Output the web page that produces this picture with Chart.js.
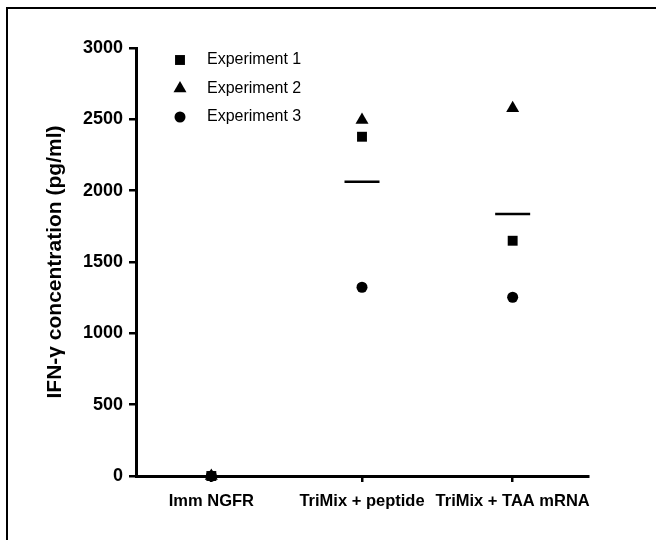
<!DOCTYPE html>
<html>
<head>
<meta charset="utf-8">
<script src="https://cdn.jsdelivr.net/npm/chart.js@4.4.1/dist/chart.umd.min.js"></script>
<style>
  html, body { margin: 0; padding: 0; background: #fff; }
  #wrap { width: 656px; height: 540px; }
</style>
</head>
<body>
<div id="wrap"><canvas id="ifnChart" width="656" height="540"></canvas></div>
<script>
// groups on the x axis
const groups = ["Imm NGFR", "TriMix + peptide", "TriMix + TAA mRNA"];
// IFN-gamma (pg/ml)
const experiment1 = [0, 2378, 1649];
const experiment2 = [0, 2495, 2577];
const experiment3 = [0, 1323, 1253];
const groupMean = [null, 2063, 1836]; // no mean bar drawn for Imm NGFR
const yTicks = [0, 500, 1000, 1500, 2000, 2500, 3000];

const FONT = "'Liberation Sans', Arial, Helvetica, sans-serif";

function expSet(label, values, style, radius) {
  return {
    label: label,
    data: values,
    showLine: false,
    pointStyle: style,
    pointRadius: radius,
    pointHoverRadius: radius,
    pointBackgroundColor: "#000",
    pointBorderColor: "#000",
    pointBorderWidth: 0,
    clip: false
  };
}

const datasets = [
  expSet("Experiment 1", experiment1, "rect", 7),
  expSet("Experiment 2", experiment2, "triangle", 7.5),
  expSet("Experiment 3", experiment3, "circle", 5.5),
  {
    label: "mean",
    data: groupMean,
    showLine: false,
    pointStyle: "line",
    pointRadius: 17.5,
    pointBorderColor: "#000",
    pointBorderWidth: 2.5,
    clip: false
  }
];

// little legend inside the plot, top left
const insideLegend = {
  id: "insideLegend",
  afterDraw(chart) {
    const ctx = chart.ctx;
    ctx.save();
    ctx.font = "16px " + FONT;
    ctx.textBaseline = "middle";
    ctx.textAlign = "left";
    for (let i = 0; i < 3; i++) {
      const ds = chart.data.datasets[i];
      const y = 60 + i * 28.5;
      ctx.fillStyle = "#000";
      ctx.strokeStyle = "#000";
      Chart.helpers.drawPoint(ctx, {pointStyle: ds.pointStyle, radius: ds.pointRadius, rotation: 0, borderWidth: 0}, 180, y);
      ctx.fillText(ds.label, 207, y);
    }
    ctx.restore();
  }
};

// frame line on top and left of the figure
const frame = {
  id: "frame",
  beforeDraw(chart) {
    const ctx = chart.ctx;
    ctx.save();
    ctx.fillStyle = "#fff";
    ctx.fillRect(0, 0, chart.width, chart.height);
    ctx.strokeStyle = "#000";
    ctx.lineWidth = 2;
    ctx.beginPath();
    ctx.moveTo(7, 540);
    ctx.lineTo(7, 8);
    ctx.lineTo(656, 8);
    ctx.stroke();
    ctx.restore();
  }
};

new Chart(document.getElementById("ifnChart"), {
  type: "line",
  data: { labels: groups, datasets: datasets },
  options: {
    responsive: false,
    animation: false,
    layout: { autoPadding: false, padding: { top: 48, right: 68, left: 0, bottom: 0 } },
    plugins: { legend: { display: false }, tooltip: { enabled: false } },
    scales: {
      x: {
        offset: true,
        afterFit(scale) { scale.height = 64; },
        border: { color: "#000", width: 3 },
        grid: { display: true, drawOnChartArea: false, offset: false, color: "#000", lineWidth: 2.5, tickLength: 6 },
        ticks: { color: "#000", padding: 10, maxRotation: 0, autoSkip: false, font: { family: FONT, size: 16.5, weight: "bold" } }
      },
      y: {
        min: 0,
        max: 3000,
        afterFit(scale) { scale.width = 136; },
        afterBuildTicks(scale) { scale.ticks = yTicks.map(v => ({ value: v })); },
        border: { color: "#000", width: 3 },
        grid: { display: true, drawOnChartArea: false, color: "#000", lineWidth: 2.5, tickLength: 7 },
        ticks: {
          color: "#000",
          padding: 6,
          callback: v => String(v),
          font: { family: FONT, size: 18, weight: "bold" }
        },
        title: {
          display: true,
          text: "IFN-γ concentration (pg/ml)",
          color: "#000",
          padding: { top: 43, bottom: 0 },
          font: { family: FONT, size: 21, weight: "bold" }
        }
      }
    }
  },
  plugins: [frame, insideLegend]
});
</script>
</body>
</html>
